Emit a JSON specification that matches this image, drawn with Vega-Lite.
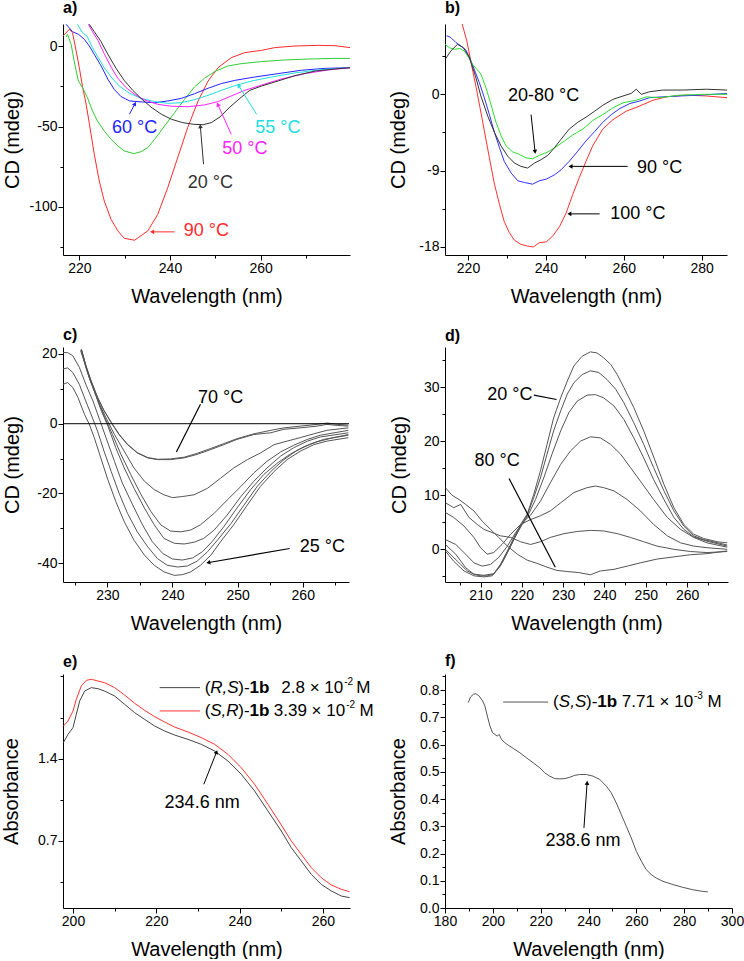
{
"$schema": "https://vega.github.io/schema/vega-lite/v6.json",
"padding": {"left": 1, "top": 0, "right": 0, "bottom": 0},
"columns": 2,
"spacing": {"row": 92, "column": 95},
"bounds": "flush",
"resolve": {"scale": {"color": "independent", "x": "independent", "y": "independent"}},
"config": {
 "font": "Liberation Sans",
 "view": {"stroke": null},
 "axis": {"grid": false, "domainColor": "#000", "tickColor": "#000", "labelColor": "#000", "titleColor": "#000", "labelFontSize": 14, "titleFontSize": 20, "titleFontWeight": "normal", "tickSize": 5, "labelPadding": 1, "labelFont": "Liberation Sans", "titleFont": "Liberation Sans", "labelOverlap": false, "labelFlush": false},
 "axisX": {"titleY": 41, "titleBaseline": "middle", "labelPadding": 1},
 "axisY": {"titleBaseline": "middle", "titleAlign": "center"},
 "title": {"anchor": "start", "fontSize": 16, "fontWeight": "bold", "frame": "group", "font": "Liberation Sans", "color": "#000"},
 "text": {"font": "Liberation Sans"}
},
"datasets": {
 "a": [
  {"w":216.4,"v":6.4,"s":"90"},{"w":217.8,"v":10.6,"s":"90"},{"w":218.5,"v":8.5,"s":"90"},{"w":219.3,"v":-2.9,"s":"90"},{"w":220,"v":-13.3,"s":"90"},{"w":220.7,"v":-25,"s":"90"},{"w":221.5,"v":-36,"s":"90"},{"w":222.2,"v":-48,"s":"90"},{"w":223.3,"v":-67.2,"s":"90"},{"w":224.4,"v":-83.8,"s":"90"},{"w":225.5,"v":-96.3,"s":"90"},{"w":227,"v":-107.7,"s":"90"},{"w":228.5,"v":-114.9,"s":"90"},{"w":229.9,"v":-119.5,"s":"90"},{"w":232.2,"v":-120.7,"s":"90"},{"w":235.1,"v":-114.9,"s":"90"},{"w":237.3,"v":-104.6,"s":"90"},{"w":239.5,"v":-88,"s":"90"},{"w":241.7,"v":-69.3,"s":"90"},{"w":243.9,"v":-50.6,"s":"90"},{"w":246.2,"v":-34,"s":"90"},{"w":248.4,"v":-21.6,"s":"90"},{"w":250.6,"v":-13.3,"s":"90"},{"w":253.5,"v":-7.1,"s":"90"},{"w":256.5,"v":-3.9,"s":"90"},{"w":260.2,"v":-2.5,"s":"90"},{"w":263.1,"v":-0.8,"s":"90"},{"w":267.5,"v":0.2,"s":"90"},{"w":272.7,"v":0.6,"s":"90"},{"w":276.4,"v":0.4,"s":"90"},{"w":279.7,"v":-0.8,"s":"90"},
  {"w":217.1,"v":5.8,"s":"g"},{"w":217.4,"v":7.5,"s":"g"},{"w":218.2,"v":1.2,"s":"g"},{"w":219,"v":-11.2,"s":"g"},{"w":219.8,"v":-21.6,"s":"g"},{"w":220.7,"v":-25.7,"s":"g"},{"w":221.8,"v":-32,"s":"g"},{"w":222.9,"v":-40.2,"s":"g"},{"w":224,"v":-46.5,"s":"g"},{"w":225.5,"v":-52.7,"s":"g"},{"w":227,"v":-57.9,"s":"g"},{"w":228.5,"v":-62,"s":"g"},{"w":229.9,"v":-65.1,"s":"g"},{"w":232,"v":-66.8,"s":"g"},{"w":233.6,"v":-65.6,"s":"g"},{"w":235.1,"v":-63.1,"s":"g"},{"w":236.6,"v":-57.9,"s":"g"},{"w":238.8,"v":-49.6,"s":"g"},{"w":241,"v":-41.3,"s":"g"},{"w":243.2,"v":-33,"s":"g"},{"w":245.4,"v":-25.3,"s":"g"},{"w":247.6,"v":-19.9,"s":"g"},{"w":249.8,"v":-15.8,"s":"g"},{"w":252.8,"v":-12.2,"s":"g"},{"w":255.7,"v":-10.8,"s":"g"},{"w":260.2,"v":-9.5,"s":"g"},{"w":265.3,"v":-8.5,"s":"g"},{"w":270.5,"v":-7.9,"s":"g"},{"w":276.4,"v":-7.5,"s":"g"},{"w":279.7,"v":-7.5,"s":"g"},
  {"w":217.1,"v":13.7,"s":"60"},{"w":218.5,"v":9.1,"s":"60"},{"w":219.8,"v":7.5,"s":"60"},{"w":221.1,"v":4.4,"s":"60"},{"w":222.2,"v":0.2,"s":"60"},{"w":223.3,"v":-5,"s":"60"},{"w":224.8,"v":-12.2,"s":"60"},{"w":226.3,"v":-20.5,"s":"60"},{"w":227.7,"v":-26.8,"s":"60"},{"w":229.2,"v":-31.3,"s":"60"},{"w":231.1,"v":-34,"s":"60"},{"w":233.6,"v":-34.6,"s":"60"},{"w":236.6,"v":-35.1,"s":"60"},{"w":239.5,"v":-34,"s":"60"},{"w":242.5,"v":-32.4,"s":"60"},{"w":245.4,"v":-29.5,"s":"60"},{"w":248.4,"v":-26.1,"s":"60"},{"w":251.3,"v":-23.2,"s":"60"},{"w":254.3,"v":-21.2,"s":"60"},{"w":258.7,"v":-19.1,"s":"60"},{"w":263.8,"v":-17,"s":"60"},{"w":269,"v":-14.9,"s":"60"},{"w":274.2,"v":-13.7,"s":"60"},{"w":279.7,"v":-13.3,"s":"60"},
  {"w":219.6,"v":13.7,"s":"55"},{"w":220.7,"v":8.5,"s":"55"},{"w":221.7,"v":6.4,"s":"55"},{"w":222.9,"v":-0.8,"s":"55"},{"w":224.2,"v":-7.1,"s":"55"},{"w":225.5,"v":-13.3,"s":"55"},{"w":227,"v":-19.1,"s":"55"},{"w":228.8,"v":-24.7,"s":"55"},{"w":231.1,"v":-29.3,"s":"55"},{"w":233.6,"v":-32.4,"s":"55"},{"w":236.6,"v":-34.4,"s":"55"},{"w":239.5,"v":-35.5,"s":"55"},{"w":242.5,"v":-35.1,"s":"55"},{"w":245.4,"v":-33.2,"s":"55"},{"w":248.4,"v":-30.5,"s":"55"},{"w":251.3,"v":-27.4,"s":"55"},{"w":254.3,"v":-24.5,"s":"55"},{"w":258,"v":-21.6,"s":"55"},{"w":262.4,"v":-19.1,"s":"55"},{"w":267.5,"v":-16.6,"s":"55"},{"w":273.4,"v":-14.5,"s":"55"},{"w":279.7,"v":-13.3,"s":"55"},
  {"w":222,"v":13.7,"s":"50"},{"w":222.9,"v":9.1,"s":"50"},{"w":224.1,"v":3.7,"s":"50"},{"w":225.5,"v":-4.6,"s":"50"},{"w":227,"v":-12.9,"s":"50"},{"w":228.5,"v":-19.9,"s":"50"},{"w":230.3,"v":-25.7,"s":"50"},{"w":232.2,"v":-29.9,"s":"50"},{"w":234.4,"v":-33.4,"s":"50"},{"w":237.3,"v":-36.1,"s":"50"},{"w":240.3,"v":-37.3,"s":"50"},{"w":243.9,"v":-37.6,"s":"50"},{"w":247.6,"v":-36.5,"s":"50"},{"w":250.6,"v":-34.4,"s":"50"},{"w":253.5,"v":-30.9,"s":"50"},{"w":256.5,"v":-27.4,"s":"50"},{"w":260.2,"v":-24.1,"s":"50"},{"w":264.6,"v":-20.3,"s":"50"},{"w":269.7,"v":-17,"s":"50"},{"w":274.9,"v":-14.7,"s":"50"},{"w":279.7,"v":-13.3,"s":"50"},
  {"w":222.2,"v":13.7,"s":"20"},{"w":223.3,"v":9.1,"s":"20"},{"w":224.8,"v":2.9,"s":"20"},{"w":226.3,"v":-5,"s":"20"},{"w":228.1,"v":-13.7,"s":"20"},{"w":229.9,"v":-21.2,"s":"20"},{"w":231.8,"v":-27.4,"s":"20"},{"w":233.6,"v":-32.4,"s":"20"},{"w":235.8,"v":-37.8,"s":"20"},{"w":238.1,"v":-42.3,"s":"20"},{"w":240.3,"v":-45.4,"s":"20"},{"w":242.8,"v":-47.5,"s":"20"},{"w":245.1,"v":-48.5,"s":"20"},{"w":247.3,"v":-48.8,"s":"20"},{"w":249.1,"v":-47.5,"s":"20"},{"w":251,"v":-44,"s":"20"},{"w":253.2,"v":-37.8,"s":"20"},{"w":255.4,"v":-32.4,"s":"20"},{"w":257.6,"v":-27.4,"s":"20"},{"w":260.2,"v":-24.7,"s":"20"},{"w":263.8,"v":-21.6,"s":"20"},{"w":267.5,"v":-18.3,"s":"20"},{"w":272,"v":-15.4,"s":"20"},{"w":276.4,"v":-14.1,"s":"20"},{"w":279.7,"v":-13.3,"s":"20"}
 ],
 "aarr": [
  {"x":231.05,"y":-42.3,"x2":232.2,"y2":-36.1,"s":"60"},
  {"x":259.1,"y":-42.3,"x2":255.2,"y2":-24.7,"s":"55"},
  {"x":253.5,"y":-54.8,"x2":250.6,"y2":-36.5,"s":"50"},
  {"x":247.4,"y":-73.4,"x2":246.7,"y2":-50.2,"s":"20"},
  {"x":241,"y":-115.5,"x2":236.2,"y2":-115.5,"s":"90"}
 ],
 "atxt": [
  {"x":232.2,"y":-50.6,"t":"60 °C","s":"60"},
  {"x":263.8,"y":-50.6,"t":"55 °C","s":"55"},
  {"x":256.5,"y":-64.1,"t":"50 °C","s":"50"},
  {"x":248.9,"y":-84.9,"t":"20 °C","s":"20"},
  {"x":248,"y":-115,"t":"90 °C","s":"90"}
 ],
 "b": [
  {"w":218.5,"v":8.3,"s":"100"},{"w":219.7,"v":6.3,"s":"100"},{"w":220.9,"v":3.5,"s":"100"},{"w":222.1,"v":0.8,"s":"100"},{"w":223.1,"v":-1.6,"s":"100"},{"w":224.2,"v":-4.3,"s":"100"},{"w":225.5,"v":-7.5,"s":"100"},{"w":226.8,"v":-10.6,"s":"100"},{"w":228.1,"v":-13,"s":"100"},{"w":229.3,"v":-15,"s":"100"},{"w":230.6,"v":-16.3,"s":"100"},{"w":231.9,"v":-17.2,"s":"100"},{"w":233.6,"v":-17.7,"s":"100"},{"w":235.3,"v":-17.9,"s":"100"},{"w":236.8,"v":-18,"s":"100"},{"w":238.3,"v":-17.5,"s":"100"},{"w":240.1,"v":-17.4,"s":"100"},{"w":241.8,"v":-16.7,"s":"100"},{"w":243.5,"v":-15.6,"s":"100"},{"w":245.2,"v":-14,"s":"100"},{"w":246.9,"v":-11.8,"s":"100"},{"w":248.6,"v":-9.8,"s":"100"},{"w":250.3,"v":-7.9,"s":"100"},{"w":252,"v":-6.1,"s":"100"},{"w":254.6,"v":-4.1,"s":"100"},{"w":257.2,"v":-3,"s":"100"},{"w":260.6,"v":-2,"s":"100"},{"w":264,"v":-1.4,"s":"100"},{"w":267.5,"v":-0.7,"s":"100"},{"w":270.9,"v":-0.3,"s":"100"},{"w":276,"v":-0.1,"s":"100"},{"w":281.2,"v":-0.2,"s":"100"},{"w":286.5,"v":-0.4,"s":"100"},
  {"w":214.5,"v":6.9,"s":"90"},{"w":215.6,"v":6.7,"s":"90"},{"w":216.9,"v":6.1,"s":"90"},{"w":218.2,"v":5.7,"s":"90"},{"w":219.5,"v":5.2,"s":"90"},{"w":220.8,"v":3.9,"s":"90"},{"w":221.9,"v":2.6,"s":"90"},{"w":222.9,"v":1.4,"s":"90"},{"w":224.2,"v":-0.4,"s":"90"},{"w":225.5,"v":-2.4,"s":"90"},{"w":226.8,"v":-4.5,"s":"90"},{"w":228.1,"v":-6.3,"s":"90"},{"w":229.3,"v":-7.9,"s":"90"},{"w":231.1,"v":-9.3,"s":"90"},{"w":232.8,"v":-10.2,"s":"90"},{"w":234.5,"v":-10.4,"s":"90"},{"w":236.6,"v":-10.6,"s":"90"},{"w":238.3,"v":-10.2,"s":"90"},{"w":240.1,"v":-10,"s":"90"},{"w":242.2,"v":-9.5,"s":"90"},{"w":243.9,"v":-8.9,"s":"90"},{"w":246,"v":-7.9,"s":"90"},{"w":248.2,"v":-6.7,"s":"90"},{"w":250.3,"v":-5.5,"s":"90"},{"w":252.5,"v":-4.4,"s":"90"},{"w":254.6,"v":-3.3,"s":"90"},{"w":256.8,"v":-2.4,"s":"90"},{"w":258.9,"v":-1.7,"s":"90"},{"w":261.5,"v":-1.1,"s":"90"},{"w":264,"v":-0.8,"s":"90"},{"w":266.6,"v":-0.4,"s":"90"},{"w":270,"v":-0.3,"s":"90"},{"w":274.3,"v":-0.2,"s":"90"},{"w":279.5,"v":-0.1,"s":"90"},{"w":286.5,"v":0.1,"s":"90"},
  {"w":214.1,"v":5.9,"s":"g"},{"w":215.2,"v":5.5,"s":"g"},{"w":216.5,"v":5.3,"s":"g"},{"w":217.9,"v":5.4,"s":"g"},{"w":219.1,"v":5.1,"s":"g"},{"w":220.2,"v":4.3,"s":"g"},{"w":221.2,"v":3.5,"s":"g"},{"w":222.2,"v":3,"s":"g"},{"w":223.3,"v":2.4,"s":"g"},{"w":224.6,"v":0.8,"s":"g"},{"w":225.9,"v":-1.2,"s":"g"},{"w":227.2,"v":-3.3,"s":"g"},{"w":228.5,"v":-4.9,"s":"g"},{"w":229.8,"v":-6.1,"s":"g"},{"w":231.5,"v":-6.8,"s":"g"},{"w":233.2,"v":-7.1,"s":"g"},{"w":234.9,"v":-7.5,"s":"g"},{"w":236.6,"v":-7.6,"s":"g"},{"w":238.3,"v":-7.2,"s":"g"},{"w":240.5,"v":-6.8,"s":"g"},{"w":242.6,"v":-6.2,"s":"g"},{"w":244.8,"v":-5.5,"s":"g"},{"w":246.9,"v":-4.8,"s":"g"},{"w":249.5,"v":-4.1,"s":"g"},{"w":252,"v":-3.1,"s":"g"},{"w":254.6,"v":-2.4,"s":"g"},{"w":257.2,"v":-1.6,"s":"g"},{"w":259.8,"v":-1,"s":"g"},{"w":263.2,"v":-0.7,"s":"g"},{"w":265.8,"v":-0.3,"s":"g"},{"w":269.2,"v":-0.4,"s":"g"},{"w":274.3,"v":-0.1,"s":"g"},{"w":281.2,"v":0,"s":"g"},{"w":286.5,"v":0,"s":"g"},
  {"w":214.1,"v":4.1,"s":"k"},{"w":215.6,"v":5.1,"s":"k"},{"w":217.3,"v":5.9,"s":"k"},{"w":218.8,"v":5.5,"s":"k"},{"w":220.3,"v":4.4,"s":"k"},{"w":221.9,"v":2.2,"s":"k"},{"w":223.3,"v":-0.2,"s":"k"},{"w":225.1,"v":-2.6,"s":"k"},{"w":226.8,"v":-4.5,"s":"k"},{"w":228.5,"v":-6.1,"s":"k"},{"w":230.2,"v":-7.3,"s":"k"},{"w":231.9,"v":-8.1,"s":"k"},{"w":233.6,"v":-8.5,"s":"k"},{"w":235.3,"v":-8.7,"s":"k"},{"w":237.1,"v":-8.1,"s":"k"},{"w":238.8,"v":-7.7,"s":"k"},{"w":240.5,"v":-7.2,"s":"k"},{"w":242.2,"v":-6.3,"s":"k"},{"w":243.9,"v":-5.3,"s":"k"},{"w":246,"v":-4.1,"s":"k"},{"w":248.2,"v":-3.3,"s":"k"},{"w":250.3,"v":-2.7,"s":"k"},{"w":252.5,"v":-2,"s":"k"},{"w":254.6,"v":-1.3,"s":"k"},{"w":257.2,"v":-0.6,"s":"k"},{"w":259.8,"v":-0.2,"s":"k"},{"w":261.9,"v":0.1,"s":"k"},{"w":263.2,"v":0.6,"s":"k"},{"w":264.5,"v":0,"s":"k"},{"w":266.6,"v":0.3,"s":"k"},{"w":270,"v":0.5,"s":"k"},{"w":275.2,"v":0.5,"s":"k"},{"w":281.2,"v":0.6,"s":"k"},{"w":286.5,"v":0.5,"s":"k"}
 ],
 "barr": [
  {"x":236.2,"y":-2.4,"x2":237.2,"y2":-6.7,"s":"k1"},
  {"x":261,"y":-8.5,"x2":246.5,"y2":-8.5,"s":"k2"},
  {"x":253.8,"y":-14.1,"x2":246.2,"y2":-14.1,"s":"k3"}
 ],
 "btxt": [
  {"x":239.4,"y":-0.2,"t":"20-80 °C"},
  {"x":269.2,"y":-8.7,"t":"90 °C"},
  {"x":263.6,"y":-14.1,"t":"100 °C"}
 ],
 "c": [
  {"w":223.2,"v":11.3,"s":"c7"},{"w":223.9,"v":11.8,"s":"c7"},{"w":224.7,"v":10.4,"s":"c7"},{"w":225.5,"v":7.5,"s":"c7"},{"w":226.5,"v":2.7,"s":"c7"},{"w":227.2,"v":0,"s":"c7"},{"w":228,"v":-4,"s":"c7"},{"w":229,"v":-9.8,"s":"c7"},{"w":230,"v":-15.6,"s":"c7"},{"w":231.3,"v":-22.3,"s":"c7"},{"w":232.6,"v":-28.1,"s":"c7"},{"w":234.1,"v":-33.4,"s":"c7"},{"w":235.7,"v":-37.7,"s":"c7"},{"w":237.2,"v":-40.6,"s":"c7"},{"w":238.7,"v":-42.5,"s":"c7"},{"w":240.3,"v":-43.5,"s":"c7"},{"w":241.5,"v":-43.3,"s":"c7"},{"w":242.8,"v":-42.5,"s":"c7"},{"w":244.3,"v":-40.6,"s":"c7"},{"w":245.9,"v":-37.7,"s":"c7"},{"w":247.4,"v":-33.8,"s":"c7"},{"w":249.4,"v":-29,"s":"c7"},{"w":251.5,"v":-23.3,"s":"c7"},{"w":253.5,"v":-18,"s":"c7"},{"w":255.6,"v":-13.7,"s":"c7"},{"w":257.6,"v":-10.3,"s":"c7"},{"w":259.6,"v":-7.9,"s":"c7"},{"w":261.7,"v":-6,"s":"c7"},{"w":263.7,"v":-5,"s":"c7"},{"w":267,"v":-4,"s":"c7"},
  {"w":223.2,"v":15.7,"s":"c6"},{"w":223.9,"v":16,"s":"c6"},{"w":224.7,"v":14.7,"s":"c6"},{"w":225.7,"v":11.3,"s":"c6"},{"w":226.7,"v":6.5,"s":"c6"},{"w":227.8,"v":1.3,"s":"c6"},{"w":228.5,"v":-2.1,"s":"c6"},{"w":229.5,"v":-7.9,"s":"c6"},{"w":230.6,"v":-13.7,"s":"c6"},{"w":231.8,"v":-19.9,"s":"c6"},{"w":233.1,"v":-25.7,"s":"c6"},{"w":234.6,"v":-31,"s":"c6"},{"w":236.2,"v":-35.3,"s":"c6"},{"w":237.7,"v":-38.7,"s":"c6"},{"w":239.2,"v":-40.6,"s":"c6"},{"w":240.8,"v":-41.1,"s":"c6"},{"w":242.3,"v":-40.8,"s":"c6"},{"w":243.8,"v":-39.4,"s":"c6"},{"w":245.4,"v":-36.7,"s":"c6"},{"w":246.9,"v":-33.4,"s":"c6"},{"w":249,"v":-28.6,"s":"c6"},{"w":251,"v":-23.3,"s":"c6"},{"w":253,"v":-18,"s":"c6"},{"w":255.1,"v":-13.7,"s":"c6"},{"w":257.1,"v":-10.3,"s":"c6"},{"w":259.1,"v":-7.7,"s":"c6"},{"w":261.2,"v":-5.8,"s":"c6"},{"w":263.2,"v":-4.5,"s":"c6"},{"w":267,"v":-3.3,"s":"c6"},
  {"w":223.2,"v":20.4,"s":"c5"},{"w":223.9,"v":20.4,"s":"c5"},{"w":224.7,"v":19.5,"s":"c5"},{"w":225.7,"v":16.2,"s":"c5"},{"w":226.7,"v":11.3,"s":"c5"},{"w":227.8,"v":6.5,"s":"c5"},{"w":228.8,"v":1.3,"s":"c5"},{"w":229.8,"v":-4,"s":"c5"},{"w":231.1,"v":-10.8,"s":"c5"},{"w":232.3,"v":-17,"s":"c5"},{"w":233.9,"v":-23.3,"s":"c5"},{"w":235.4,"v":-29,"s":"c5"},{"w":236.9,"v":-33.8,"s":"c5"},{"w":238.5,"v":-37.2,"s":"c5"},{"w":240,"v":-38.8,"s":"c5"},{"w":241.5,"v":-39.1,"s":"c5"},{"w":243.1,"v":-38.5,"s":"c5"},{"w":244.6,"v":-36.7,"s":"c5"},{"w":246.1,"v":-33.8,"s":"c5"},{"w":247.9,"v":-29.5,"s":"c5"},{"w":249.9,"v":-24.2,"s":"c5"},{"w":252,"v":-18.9,"s":"c5"},{"w":254,"v":-14.6,"s":"c5"},{"w":256.1,"v":-11.3,"s":"c5"},{"w":258.1,"v":-8.7,"s":"c5"},{"w":260.2,"v":-6.6,"s":"c5"},{"w":262.2,"v":-5.2,"s":"c5"},{"w":264.7,"v":-4,"s":"c5"},{"w":267,"v":-3.1,"s":"c5"},
  {"w":225.9,"v":21,"s":"c4"},{"w":226.5,"v":17.6,"s":"c4"},{"w":227.2,"v":13.3,"s":"c4"},{"w":228,"v":9.4,"s":"c4"},{"w":229,"v":4.1,"s":"c4"},{"w":230.1,"v":-0.7,"s":"c4"},{"w":231.3,"v":-6.9,"s":"c4"},{"w":232.6,"v":-12.7,"s":"c4"},{"w":234.1,"v":-18.5,"s":"c4"},{"w":235.7,"v":-24.2,"s":"c4"},{"w":237.2,"v":-29,"s":"c4"},{"w":238.7,"v":-32.9,"s":"c4"},{"w":240.3,"v":-34.3,"s":"c4"},{"w":241.8,"v":-34.5,"s":"c4"},{"w":243.3,"v":-34,"s":"c4"},{"w":244.8,"v":-32.9,"s":"c4"},{"w":246.4,"v":-30.5,"s":"c4"},{"w":248.4,"v":-26.2,"s":"c4"},{"w":250.5,"v":-20.9,"s":"c4"},{"w":252.5,"v":-16.5,"s":"c4"},{"w":254.5,"v":-12.7,"s":"c4"},{"w":256.6,"v":-9.3,"s":"c4"},{"w":258.6,"v":-6.9,"s":"c4"},{"w":260.7,"v":-5,"s":"c4"},{"w":262.7,"v":-3.8,"s":"c4"},{"w":267,"v":-2.6,"s":"c4"},
  {"w":226,"v":21,"s":"c3"},{"w":226.7,"v":16.2,"s":"c3"},{"w":227.5,"v":11.8,"s":"c3"},{"w":228.5,"v":7,"s":"c3"},{"w":229.5,"v":2.2,"s":"c3"},{"w":230.8,"v":-3.1,"s":"c3"},{"w":232.1,"v":-8.8,"s":"c3"},{"w":233.6,"v":-14.6,"s":"c3"},{"w":235.2,"v":-20.4,"s":"c3"},{"w":236.7,"v":-25.2,"s":"c3"},{"w":238.2,"v":-29,"s":"c3"},{"w":239.7,"v":-30.8,"s":"c3"},{"w":241.3,"v":-31,"s":"c3"},{"w":242.8,"v":-30.5,"s":"c3"},{"w":244.3,"v":-29,"s":"c3"},{"w":246.4,"v":-25.7,"s":"c3"},{"w":248.4,"v":-21.9,"s":"c3"},{"w":250.5,"v":-18,"s":"c3"},{"w":252.5,"v":-14.1,"s":"c3"},{"w":254.5,"v":-10.8,"s":"c3"},{"w":256.6,"v":-8.1,"s":"c3"},{"w":258.6,"v":-6.2,"s":"c3"},{"w":260.7,"v":-4.5,"s":"c3"},{"w":262.7,"v":-3.3,"s":"c3"},{"w":267,"v":-1.9,"s":"c3"},
  {"w":226.1,"v":21,"s":"c2"},{"w":226.9,"v":15.2,"s":"c2"},{"w":227.8,"v":10.4,"s":"c2"},{"w":228.8,"v":5.6,"s":"c2"},{"w":229.8,"v":1.7,"s":"c2"},{"w":231.1,"v":-3.1,"s":"c2"},{"w":232.6,"v":-7.9,"s":"c2"},{"w":234.1,"v":-12.7,"s":"c2"},{"w":235.7,"v":-16.5,"s":"c2"},{"w":237.2,"v":-18.9,"s":"c2"},{"w":238.7,"v":-20.4,"s":"c2"},{"w":240,"v":-21.2,"s":"c2"},{"w":241.5,"v":-20.9,"s":"c2"},{"w":243.3,"v":-20.4,"s":"c2"},{"w":245.4,"v":-18.5,"s":"c2"},{"w":247.4,"v":-15.6,"s":"c2"},{"w":249.4,"v":-12.7,"s":"c2"},{"w":251.5,"v":-10.3,"s":"c2"},{"w":253.5,"v":-8.4,"s":"c2"},{"w":255.6,"v":-6,"s":"c2"},{"w":257.6,"v":-5,"s":"c2"},{"w":259.6,"v":-4,"s":"c2"},{"w":261.7,"v":-2.9,"s":"c2"},{"w":263.7,"v":-1.9,"s":"c2"},{"w":267,"v":-1.2,"s":"c2"},
  {"w":226,"v":21.2,"s":"c1"},{"w":226.7,"v":16.6,"s":"c1"},{"w":227.5,"v":12.3,"s":"c1"},{"w":228.5,"v":7.5,"s":"c1"},{"w":229.5,"v":3.7,"s":"c1"},{"w":230.6,"v":0.3,"s":"c1"},{"w":231.8,"v":-3.1,"s":"c1"},{"w":233.1,"v":-6,"s":"c1"},{"w":234.6,"v":-8.4,"s":"c1"},{"w":236.2,"v":-9.8,"s":"c1"},{"w":237.7,"v":-10.3,"s":"c1"},{"w":239.7,"v":-10.3,"s":"c1"},{"w":241.8,"v":-9.8,"s":"c1"},{"w":243.8,"v":-8.8,"s":"c1"},{"w":245.9,"v":-7.4,"s":"c1"},{"w":247.9,"v":-6,"s":"c1"},{"w":249.9,"v":-4.5,"s":"c1"},{"w":252.5,"v":-3.1,"s":"c1"},{"w":255.1,"v":-2.6,"s":"c1"},{"w":257.1,"v":-1.6,"s":"c1"},{"w":259.6,"v":-1.2,"s":"c1"},{"w":262.2,"v":-0.7,"s":"c1"},{"w":263.7,"v":-0.2,"s":"c1"},{"w":265.3,"v":-0.5,"s":"c1"},{"w":267,"v":-0.7,"s":"c1"},
  {"w":226,"v":21.4,"s":"c1b"},{"w":226.7,"v":16.8,"s":"c1b"},{"w":227.5,"v":12.4,"s":"c1b"},{"w":228.5,"v":7.6,"s":"c1b"},{"w":229.5,"v":3.8,"s":"c1b"},{"w":230.6,"v":0.4,"s":"c1b"},{"w":231.8,"v":-3,"s":"c1b"},{"w":233.1,"v":-5.9,"s":"c1b"},{"w":234.6,"v":-8.3,"s":"c1b"},{"w":236.2,"v":-9.7,"s":"c1b"},{"w":237.7,"v":-10.2,"s":"c1b"},{"w":239.7,"v":-10.1,"s":"c1b"},{"w":241.8,"v":-9.6,"s":"c1b"},{"w":243.8,"v":-8.5,"s":"c1b"},{"w":245.9,"v":-7.1,"s":"c1b"},{"w":247.9,"v":-5.7,"s":"c1b"},{"w":249.9,"v":-4.3,"s":"c1b"},{"w":252.5,"v":-2.9,"s":"c1b"},{"w":255.1,"v":-1.9,"s":"c1b"},{"w":257.1,"v":-1.2,"s":"c1b"},{"w":259.6,"v":-0.7,"s":"c1b"},{"w":262.2,"v":-0.2,"s":"c1b"},{"w":263.7,"v":0.2,"s":"c1b"},{"w":265.3,"v":-0.2,"s":"c1b"},{"w":267,"v":-0.4,"s":"c1b"}
 ],
 "czero": [{"v":0}],
 "carr": [
  {"x":244.3,"y":5.6,"x2":240.6,"y2":-8.1,"s":"70"},
  {"x":258,"y":-35.8,"x2":245.6,"y2":-39.8,"s":"25"}
 ],
 "ctxt": [
  {"x":247.4,"y":7.3,"t":"70 °C"},
  {"x":263,"y":-35.3,"t":"25 °C"}
 ],
 "d": [
  {"w":201.5,"v":0,"s":"d1"},{"w":203.5,"v":-1.5,"s":"d1"},{"w":205.2,"v":-2.8,"s":"d1"},{"w":206.8,"v":-4,"s":"d1"},{"w":208.4,"v":-4.6,"s":"d1"},{"w":210,"v":-4.9,"s":"d1"},{"w":211.6,"v":-4.9,"s":"d1"},{"w":213.2,"v":-4.6,"s":"d1"},{"w":214.8,"v":-2.8,"s":"d1"},{"w":216.5,"v":-0.3,"s":"d1"},{"w":218.1,"v":2.2,"s":"d1"},{"w":219.7,"v":4.6,"s":"d1"},{"w":221.3,"v":6.5,"s":"d1"},{"w":222.9,"v":10.2,"s":"d1"},{"w":224.5,"v":14.5,"s":"d1"},{"w":226.1,"v":19.4,"s":"d1"},{"w":227.7,"v":24.3,"s":"d1"},{"w":229.4,"v":28,"s":"d1"},{"w":231,"v":31.1,"s":"d1"},{"w":232.6,"v":33.9,"s":"d1"},{"w":234.6,"v":35.7,"s":"d1"},{"w":236.6,"v":36.5,"s":"d1"},{"w":238.2,"v":36.3,"s":"d1"},{"w":239.8,"v":35.4,"s":"d1"},{"w":241.5,"v":34.2,"s":"d1"},{"w":243.1,"v":32.3,"s":"d1"},{"w":244.7,"v":29.9,"s":"d1"},{"w":247.1,"v":26.2,"s":"d1"},{"w":249.5,"v":21.9,"s":"d1"},{"w":252,"v":16.9,"s":"d1"},{"w":254.4,"v":12,"s":"d1"},{"w":256.8,"v":7.7,"s":"d1"},{"w":259.2,"v":4.6,"s":"d1"},{"w":261.6,"v":2.8,"s":"d1"},{"w":264,"v":2,"s":"d1"},{"w":267.3,"v":1.4,"s":"d1"},{"w":269.7,"v":1.2,"s":"d1"},
  {"w":201.5,"v":-0.3,"s":"d2"},{"w":203.5,"v":-2.2,"s":"d2"},{"w":206,"v":-4,"s":"d2"},{"w":208.4,"v":-4.9,"s":"d2"},{"w":210.8,"v":-5.1,"s":"d2"},{"w":212.8,"v":-4.9,"s":"d2"},{"w":214.8,"v":-3.1,"s":"d2"},{"w":216.5,"v":-0.6,"s":"d2"},{"w":218.1,"v":1.8,"s":"d2"},{"w":219.7,"v":4.3,"s":"d2"},{"w":221.3,"v":6.3,"s":"d2"},{"w":222.9,"v":9.6,"s":"d2"},{"w":224.5,"v":13.2,"s":"d2"},{"w":226.1,"v":17.6,"s":"d2"},{"w":227.7,"v":21.9,"s":"d2"},{"w":229.4,"v":25.6,"s":"d2"},{"w":231,"v":28.7,"s":"d2"},{"w":232.6,"v":30.8,"s":"d2"},{"w":234.6,"v":32.3,"s":"d2"},{"w":236.6,"v":33,"s":"d2"},{"w":238.6,"v":32.7,"s":"d2"},{"w":240.6,"v":31.4,"s":"d2"},{"w":242.7,"v":29.6,"s":"d2"},{"w":244.7,"v":27.1,"s":"d2"},{"w":247.1,"v":23.4,"s":"d2"},{"w":249.5,"v":19.4,"s":"d2"},{"w":251.9,"v":15.1,"s":"d2"},{"w":254.4,"v":10.8,"s":"d2"},{"w":256.8,"v":7.1,"s":"d2"},{"w":259.2,"v":4.3,"s":"d2"},{"w":261.6,"v":2.5,"s":"d2"},{"w":264,"v":1.8,"s":"d2"},{"w":269.7,"v":0.8,"s":"d2"},
  {"w":201.5,"v":0.9,"s":"d3"},{"w":204,"v":-0.9,"s":"d3"},{"w":206.4,"v":-3.4,"s":"d3"},{"w":208.4,"v":-4.6,"s":"d3"},{"w":210.8,"v":-4.8,"s":"d3"},{"w":213.2,"v":-4.5,"s":"d3"},{"w":215.2,"v":-2.5,"s":"d3"},{"w":216.9,"v":0,"s":"d3"},{"w":218.5,"v":2.5,"s":"d3"},{"w":220.1,"v":4.6,"s":"d3"},{"w":221.5,"v":6.3,"s":"d3"},{"w":223.3,"v":9.2,"s":"d3"},{"w":225.3,"v":13.2,"s":"d3"},{"w":227.3,"v":17.6,"s":"d3"},{"w":229.4,"v":21.9,"s":"d3"},{"w":231.4,"v":25.3,"s":"d3"},{"w":233.4,"v":27.4,"s":"d3"},{"w":235.8,"v":28.5,"s":"d3"},{"w":237.8,"v":28.6,"s":"d3"},{"w":239.8,"v":28,"s":"d3"},{"w":242.3,"v":26.5,"s":"d3"},{"w":244.7,"v":24,"s":"d3"},{"w":247.1,"v":20.6,"s":"d3"},{"w":249.5,"v":16.9,"s":"d3"},{"w":251.9,"v":12.9,"s":"d3"},{"w":254.4,"v":9.2,"s":"d3"},{"w":256.8,"v":5.9,"s":"d3"},{"w":259.2,"v":3.7,"s":"d3"},{"w":261.6,"v":2.3,"s":"d3"},{"w":264.8,"v":1.5,"s":"d3"},{"w":269.7,"v":0.6,"s":"d3"},
  {"w":201.5,"v":1.8,"s":"d4"},{"w":204,"v":0.9,"s":"d4"},{"w":206.4,"v":-0.9,"s":"d4"},{"w":208.4,"v":-2.5,"s":"d4"},{"w":210.4,"v":-3.1,"s":"d4"},{"w":212.4,"v":-2.8,"s":"d4"},{"w":214.4,"v":-1.5,"s":"d4"},{"w":216.5,"v":0.6,"s":"d4"},{"w":218.5,"v":3.1,"s":"d4"},{"w":220.5,"v":5.2,"s":"d4"},{"w":222.1,"v":6.3,"s":"d4"},{"w":224.5,"v":8.9,"s":"d4"},{"w":226.9,"v":12.3,"s":"d4"},{"w":229.4,"v":15.7,"s":"d4"},{"w":231.8,"v":18.2,"s":"d4"},{"w":234.2,"v":20,"s":"d4"},{"w":236.6,"v":20.8,"s":"d4"},{"w":239,"v":20.6,"s":"d4"},{"w":241.5,"v":19.4,"s":"d4"},{"w":243.9,"v":17.6,"s":"d4"},{"w":246.3,"v":15.1,"s":"d4"},{"w":248.7,"v":12.6,"s":"d4"},{"w":251.9,"v":9.2,"s":"d4"},{"w":255.2,"v":5.9,"s":"d4"},{"w":258.4,"v":3.7,"s":"d4"},{"w":261.6,"v":2.2,"s":"d4"},{"w":264.8,"v":1.2,"s":"d4"},{"w":269.7,"v":0.4,"s":"d4"},
  {"w":201.5,"v":6.8,"s":"d5"},{"w":203.5,"v":5.9,"s":"d5"},{"w":206,"v":4.3,"s":"d5"},{"w":208.4,"v":2.2,"s":"d5"},{"w":210,"v":0.3,"s":"d5"},{"w":211.6,"v":-0.9,"s":"d5"},{"w":213.2,"v":-0.6,"s":"d5"},{"w":215.2,"v":0.9,"s":"d5"},{"w":217.3,"v":2.8,"s":"d5"},{"w":219.7,"v":4.6,"s":"d5"},{"w":222.1,"v":5.5,"s":"d5"},{"w":224.5,"v":6.2,"s":"d5"},{"w":226.9,"v":7.1,"s":"d5"},{"w":229.4,"v":8.6,"s":"d5"},{"w":232.6,"v":10.5,"s":"d5"},{"w":235.8,"v":11.4,"s":"d5"},{"w":237.8,"v":11.7,"s":"d5"},{"w":239.8,"v":11.4,"s":"d5"},{"w":242.3,"v":10.8,"s":"d5"},{"w":245.5,"v":9.2,"s":"d5"},{"w":248.7,"v":7.1,"s":"d5"},{"w":251.9,"v":4.6,"s":"d5"},{"w":255.2,"v":2.5,"s":"d5"},{"w":258.4,"v":1.2,"s":"d5"},{"w":261.6,"v":0.6,"s":"d5"},{"w":264.8,"v":0.3,"s":"d5"},{"w":269.7,"v":0,"s":"d5"},
  {"w":201.5,"v":8.6,"s":"d6"},{"w":203.5,"v":7.7,"s":"d6"},{"w":205.2,"v":8.3,"s":"d6"},{"w":207.2,"v":5.9,"s":"d6"},{"w":209.2,"v":4.6,"s":"d6"},{"w":210.8,"v":3.7,"s":"d6"},{"w":212.8,"v":3.1,"s":"d6"},{"w":214.8,"v":2.5,"s":"d6"},{"w":217.3,"v":2.2,"s":"d6"},{"w":219.7,"v":1.4,"s":"d6"},{"w":222.1,"v":0.9,"s":"d6"},{"w":224.5,"v":1.4,"s":"d6"},{"w":226.9,"v":2.2,"s":"d6"},{"w":230.2,"v":2.9,"s":"d6"},{"w":233.4,"v":3.3,"s":"d6"},{"w":236.6,"v":3.5,"s":"d6"},{"w":239.8,"v":3.4,"s":"d6"},{"w":243.1,"v":2.9,"s":"d6"},{"w":246.3,"v":2.2,"s":"d6"},{"w":249.5,"v":1.4,"s":"d6"},{"w":252.7,"v":0.6,"s":"d6"},{"w":256.8,"v":0,"s":"d6"},{"w":260.8,"v":-0.4,"s":"d6"},{"w":264.8,"v":-0.6,"s":"d6"},{"w":269.7,"v":-0.4,"s":"d6"},
  {"w":201.5,"v":11.4,"s":"d7"},{"w":203.1,"v":10,"s":"d7"},{"w":204.8,"v":9.2,"s":"d7"},{"w":206.4,"v":8.3,"s":"d7"},{"w":208.4,"v":7.1,"s":"d7"},{"w":210.4,"v":5.2,"s":"d7"},{"w":212.4,"v":3.7,"s":"d7"},{"w":214.4,"v":2.2,"s":"d7"},{"w":216.5,"v":0.6,"s":"d7"},{"w":218.9,"v":-0.9,"s":"d7"},{"w":221.3,"v":-2,"s":"d7"},{"w":223.7,"v":-2.6,"s":"d7"},{"w":226.1,"v":-3.3,"s":"d7"},{"w":228.5,"v":-3.9,"s":"d7"},{"w":230.9,"v":-4.1,"s":"d7"},{"w":233.8,"v":-4.3,"s":"d7"},{"w":236.6,"v":-4.7,"s":"d7"},{"w":239,"v":-4,"s":"d7"},{"w":242.3,"v":-3.7,"s":"d7"},{"w":245.5,"v":-3.1,"s":"d7"},{"w":248.7,"v":-2.5,"s":"d7"},{"w":252.7,"v":-1.8,"s":"d7"},{"w":256.8,"v":-1.4,"s":"d7"},{"w":260.8,"v":-1,"s":"d7"},{"w":264.8,"v":-0.8,"s":"d7"},{"w":269.7,"v":-0.3,"s":"d7"}
 ],
 "darr": [
  {"x":222.9,"y":28.5,"x2":228.4,"y2":27.7},
  {"x":216.9,"y":13.1,"x2":228.1,"y2":-3.3}
 ],
 "dtxt": [
  {"x":217.1,"y":28.5,"t":"20 °C"},
  {"x":214,"y":16.3,"t":"80 °C"}
 ],
 "e": [
  {"w":197.7,"v":1.536,"s":"RS"},{"w":198.8,"v":1.607,"s":"RS"},{"w":200,"v":1.664,"s":"RS"},{"w":200.8,"v":1.777,"s":"RS"},{"w":201.6,"v":1.89,"s":"RS"},{"w":202.8,"v":1.975,"s":"RS"},{"w":204.4,"v":2.004,"s":"RS"},{"w":206,"v":1.995,"s":"RS"},{"w":207.6,"v":1.975,"s":"RS"},{"w":210,"v":1.933,"s":"RS"},{"w":212.4,"v":1.862,"s":"RS"},{"w":214.8,"v":1.791,"s":"RS"},{"w":217.2,"v":1.734,"s":"RS"},{"w":219.6,"v":1.678,"s":"RS"},{"w":222,"v":1.635,"s":"RS"},{"w":224.4,"v":1.601,"s":"RS"},{"w":227.6,"v":1.564,"s":"RS"},{"w":230.8,"v":1.522,"s":"RS"},{"w":234,"v":1.465,"s":"RS"},{"w":237.2,"v":1.38,"s":"RS"},{"w":240.4,"v":1.267,"s":"RS"},{"w":243.6,"v":1.125,"s":"RS"},{"w":246.8,"v":0.955,"s":"RS"},{"w":250,"v":0.785,"s":"RS"},{"w":252.4,"v":0.643,"s":"RS"},{"w":254.8,"v":0.53,"s":"RS"},{"w":257.2,"v":0.416,"s":"RS"},{"w":259.6,"v":0.331,"s":"RS"},{"w":262,"v":0.275,"s":"RS"},{"w":264.4,"v":0.232,"s":"RS"},{"w":266.4,"v":0.218,"s":"RS"},
  {"w":197.7,"v":1.678,"s":"SR"},{"w":198.8,"v":1.72,"s":"SR"},{"w":200,"v":1.805,"s":"SR"},{"w":200.8,"v":1.905,"s":"SR"},{"w":202,"v":2.018,"s":"SR"},{"w":203.2,"v":2.066,"s":"SR"},{"w":204.4,"v":2.075,"s":"SR"},{"w":206,"v":2.06,"s":"SR"},{"w":207.6,"v":2.046,"s":"SR"},{"w":210,"v":2.004,"s":"SR"},{"w":212.4,"v":1.941,"s":"SR"},{"w":214.8,"v":1.871,"s":"SR"},{"w":217.2,"v":1.811,"s":"SR"},{"w":219.6,"v":1.757,"s":"SR"},{"w":222,"v":1.712,"s":"SR"},{"w":224.4,"v":1.669,"s":"SR"},{"w":227.6,"v":1.627,"s":"SR"},{"w":230.8,"v":1.579,"s":"SR"},{"w":234,"v":1.522,"s":"SR"},{"w":237.2,"v":1.437,"s":"SR"},{"w":240.4,"v":1.323,"s":"SR"},{"w":243.6,"v":1.182,"s":"SR"},{"w":246.8,"v":1.012,"s":"SR"},{"w":250,"v":0.836,"s":"SR"},{"w":252.4,"v":0.7,"s":"SR"},{"w":254.8,"v":0.587,"s":"SR"},{"w":257.2,"v":0.473,"s":"SR"},{"w":259.6,"v":0.388,"s":"SR"},{"w":262,"v":0.326,"s":"SR"},{"w":264.4,"v":0.289,"s":"SR"},{"w":266.4,"v":0.269,"s":"SR"}
 ],
 "eleg": [
  {"x":220.8,"x2":230.5,"y":2.004,"s":"RS"},
  {"x":220.8,"x2":230.5,"y":1.806,"s":"SR"}
 ],
 "elt": [
  {"x":231.6,"y":2.004,"t":"(","k":"n"},{"x":232.95,"y":2.004,"t":"R,S","k":"i"},{"x":239.7,"y":2.004,"t":")-","k":"n"},{"x":242.4,"y":2.004,"t":"1b","k":"b"},{"x":250,"y":2.004,"t":"2.8 × 10","k":"n"},{"x":265.1,"y":2.004,"t":"-2","k":"sup"},{"x":268,"y":2.004,"t":"M","k":"n"},
  {"x":231.6,"y":1.806,"t":"(","k":"n"},{"x":232.95,"y":1.806,"t":"S,R","k":"i"},{"x":239.7,"y":1.806,"t":")-","k":"n"},{"x":242.4,"y":1.806,"t":"1b","k":"b"},{"x":248.2,"y":1.806,"t":"3.39 × 10","k":"n"},{"x":265.6,"y":1.806,"t":"-2","k":"sup"},{"x":268.8,"y":1.806,"t":"M","k":"n"}
 ],
 "earr": [{"x":231.4,"y":1.182,"x2":234.4,"y2":1.451}],
 "etxt": [{"x":231,"y":1.026,"t":"234.6 nm"}],
 "f": [
  {"w":189.7,"v":0.754},{"w":190.7,"v":0.775},{"w":191.8,"v":0.784},{"w":192.9,"v":0.787},{"w":194.3,"v":0.778},{"w":195.7,"v":0.76},{"w":196.7,"v":0.741},{"w":197.7,"v":0.705},{"w":198.8,"v":0.668},{"w":199.9,"v":0.643},{"w":200.9,"v":0.637},{"w":201.8,"v":0.631},{"w":202.7,"v":0.637},{"w":203.6,"v":0.619},{"w":205,"v":0.607},{"w":206.4,"v":0.598},{"w":208.5,"v":0.586},{"w":211.3,"v":0.57},{"w":214.1,"v":0.551},{"w":216.9,"v":0.533},{"w":219.6,"v":0.515},{"w":221.7,"v":0.496},{"w":223.8,"v":0.484},{"w":225.9,"v":0.475},{"w":228,"v":0.474},{"w":230.1,"v":0.475},{"w":232.2,"v":0.48},{"w":234.2,"v":0.487},{"w":236.3,"v":0.49},{"w":239.1,"v":0.49},{"w":241.9,"v":0.484},{"w":244.7,"v":0.472},{"w":247.5,"v":0.447},{"w":249.5,"v":0.423},{"w":251.6,"v":0.386},{"w":253.7,"v":0.343},{"w":255.8,"v":0.3},{"w":257.9,"v":0.257},{"w":260,"v":0.208},{"w":262.1,"v":0.172},{"w":264.1,"v":0.141},{"w":266.2,"v":0.123},{"w":268.3,"v":0.11},{"w":271.1,"v":0.098},{"w":275.3,"v":0.086},{"w":279.4,"v":0.076},{"w":283.6,"v":0.067},{"w":287.8,"v":0.061},{"w":289.9,"v":0.059}
 ],
 "fleg": [{"x":204.3,"x2":223.1,"y":0.756}],
 "flt": [
  {"x":225.2,"y":0.756,"t":"(","k":"n"},{"x":227.6,"y":0.756,"t":"S,S","k":"i"},{"x":239,"y":0.756,"t":")-","k":"n"},{"x":243.7,"y":0.756,"t":"1b","k":"b"},{"x":253.9,"y":0.756,"t":"7.71 × 10","k":"n"},{"x":284.1,"y":0.756,"t":"-3","k":"sup"},{"x":289.8,"y":0.756,"t":"M","k":"n"}
 ],
 "farr": [{"x":238.1,"y":0.294,"x2":239.4,"y2":0.457}],
 "ftxt": [{"x":237.7,"y":0.245,"t":"238.6 nm"}]
},
"concat": [
 {
  "width": 287, "height": 231,
  "title": {"text": "a)", "offset": 8},
  "resolve": {"axis": {"x": "independent", "y": "independent"}},
  "layer": [
   {"data": {"name": "a"}, "mark": {"type": "line", "clip": true, "strokeWidth": 1},
    "encoding": {
     "x": {"field": "w", "type": "quantitative", "scale": {"domain": [216.4, 279.7], "nice": false, "zero": false},
      "axis": {"orient": "bottom", "title": "Wavelength (nm)", "values": [220,240,260]}},
     "y": {"field": "v", "type": "quantitative", "scale": {"domain": [-129.9, 13.9], "nice": false, "zero": false},
      "axis": {"orient": "left", "title": "CD (mdeg)", "titleX": -51, "values": [-100,-50,0], "labelExpr": "replace(datum.label, '\u2212', '-')"}},
     "color": {"field": "s", "type": "nominal", "legend": null, "scale": {"domain": ["20","50","55","60","90","g"], "range": ["#333333","#ff22ff","#22dddd","#2222ff","#ff2a2a","#33cc33"]}}
    }},
   {"data": {"name": "a"}, "mark": {"type": "point", "opacity": 0, "size": 0, "clip": true},
    "encoding": {
     "x": {"field": "w", "type": "quantitative", "axis": {"orient": "bottom", "values": [230,250,270], "labels": false, "domain": false, "title": null, "tickSize": 3}},
     "y": {"field": "v", "type": "quantitative", "axis": {"orient": "left", "values": [-125,-75,-25], "labels": false, "domain": false, "title": null, "tickSize": 3}}
    }},
   {"data": {"name": "aarr"}, "mark": {"type": "rule", "strokeWidth": 1},
    "encoding": {"x": {"field": "x", "type": "quantitative", "axis": null}, "y": {"field": "y", "type": "quantitative", "axis": null}, "x2": {"field": "x2"}, "y2": {"field": "y2"}, "color": {"field": "s", "type": "nominal", "legend": null}}},
   {"data": {"name": "aarr"}, "transform": [{"filter": "datum.s == '60'"}], "mark": {"type": "point", "shape": "triangle", "filled": true, "size": 22, "angle": 28, "opacity": 1},
    "encoding": {"x": {"field": "x2", "type": "quantitative", "axis": null}, "y": {"field": "y2", "type": "quantitative", "axis": null}, "color": {"field": "s", "type": "nominal", "legend": null}}},
   {"data": {"name": "aarr"}, "transform": [{"filter": "datum.s == '55'"}], "mark": {"type": "point", "shape": "triangle", "filled": true, "size": 22, "angle": 328, "opacity": 1},
    "encoding": {"x": {"field": "x2", "type": "quantitative", "axis": null}, "y": {"field": "y2", "type": "quantitative", "axis": null}, "color": {"field": "s", "type": "nominal", "legend": null}}},
   {"data": {"name": "aarr"}, "transform": [{"filter": "datum.s == '50'"}], "mark": {"type": "point", "shape": "triangle", "filled": true, "size": 22, "angle": 336, "opacity": 1},
    "encoding": {"x": {"field": "x2", "type": "quantitative", "axis": null}, "y": {"field": "y2", "type": "quantitative", "axis": null}, "color": {"field": "s", "type": "nominal", "legend": null}}},
   {"data": {"name": "aarr"}, "transform": [{"filter": "datum.s == '20'"}], "mark": {"type": "point", "shape": "triangle", "filled": true, "size": 22, "angle": 355, "opacity": 1},
    "encoding": {"x": {"field": "x2", "type": "quantitative", "axis": null}, "y": {"field": "y2", "type": "quantitative", "axis": null}, "color": {"field": "s", "type": "nominal", "legend": null}}},
   {"data": {"name": "aarr"}, "transform": [{"filter": "datum.s == '90'"}], "mark": {"type": "point", "shape": "triangle", "filled": true, "size": 22, "angle": 270, "opacity": 1},
    "encoding": {"x": {"field": "x2", "type": "quantitative", "axis": null}, "y": {"field": "y2", "type": "quantitative", "axis": null}, "color": {"field": "s", "type": "nominal", "legend": null}}},
   {"data": {"name": "atxt"}, "mark": {"type": "text", "fontSize": 18, "baseline": "middle", "align": "center"},
    "encoding": {"x": {"field": "x", "type": "quantitative", "axis": null}, "y": {"field": "y", "type": "quantitative", "axis": null}, "text": {"field": "t"}, "color": {"field": "s", "type": "nominal", "legend": null}}}
  ]
 },
 {
  "width": 282, "height": 231,
  "title": {"text": "b)", "offset": 8},
  "resolve": {"axis": {"x": "independent", "y": "independent"}},
  "layer": [
   {"data": {"name": "b"}, "mark": {"type": "line", "clip": true, "strokeWidth": 1},
    "encoding": {
     "x": {"field": "w", "type": "quantitative", "scale": {"domain": [214.1, 286.5], "nice": false, "zero": false},
      "axis": {"orient": "bottom", "title": "Wavelength (nm)", "values": [220,240,260,280]}},
     "y": {"field": "v", "type": "quantitative", "scale": {"domain": [-18.95, 8.29], "nice": false, "zero": false},
      "axis": {"orient": "left", "title": "CD (mdeg)", "titleX": -47, "values": [-18,-9,0], "labelExpr": "replace(datum.label, '\u2212', '-')"}},
     "color": {"field": "s", "type": "nominal", "legend": null, "scale": {"domain": ["100","90","g","k"], "range": ["#ff3030","#3030ff","#30dd30","#333333"]}}
    }},
   {"data": {"name": "b"}, "mark": {"type": "point", "opacity": 0, "size": 0, "clip": true},
    "encoding": {
     "x": {"field": "w", "type": "quantitative", "axis": {"orient": "bottom", "values": [230,250,270], "labels": false, "domain": false, "title": null, "tickSize": 3}},
     "y": {"field": "v", "type": "quantitative", "axis": {"orient": "left", "values": [-13.5,-4.5,4.5], "labels": false, "domain": false, "title": null, "tickSize": 3}}
    }},
   {"data": {"name": "barr"}, "mark": {"type": "rule", "strokeWidth": 1, "color": "#000"},
    "encoding": {"x": {"field": "x", "type": "quantitative", "axis": null}, "y": {"field": "y", "type": "quantitative", "axis": null}, "x2": {"field": "x2"}, "y2": {"field": "y2"}}},
   {"data": {"name": "barr"}, "transform": [{"filter": "datum.s == 'k1'"}], "mark": {"type": "point", "shape": "triangle", "filled": true, "size": 22, "angle": 174, "color": "#000", "opacity": 1},
    "encoding": {"x": {"field": "x2", "type": "quantitative", "axis": null}, "y": {"field": "y2", "type": "quantitative", "axis": null}}},
   {"data": {"name": "barr"}, "transform": [{"filter": "datum.s != 'k1'"}], "mark": {"type": "point", "shape": "triangle", "filled": true, "size": 22, "angle": 270, "color": "#000", "opacity": 1},
    "encoding": {"x": {"field": "x2", "type": "quantitative", "axis": null}, "y": {"field": "y2", "type": "quantitative", "axis": null}}},
   {"data": {"name": "btxt"}, "mark": {"type": "text", "fontSize": 18, "baseline": "middle", "align": "center", "color": "#000"},
    "encoding": {"x": {"field": "x", "type": "quantitative", "axis": null}, "y": {"field": "y", "type": "quantitative", "axis": null}, "text": {"field": "t"}}}
  ]
 },
 {
  "width": 286, "height": 235,
  "title": {"text": "c)", "offset": 4},
  "resolve": {"axis": {"x": "independent", "y": "independent"}},
  "layer": [
   {"data": {"name": "c"}, "mark": {"type": "line", "clip": true, "strokeWidth": 1, "color": "#555555"},
    "encoding": {
     "x": {"field": "w", "type": "quantitative", "scale": {"domain": [223.2, 267.1], "nice": false, "zero": false},
      "axis": {"orient": "bottom", "title": "Wavelength (nm)", "values": [230,240,250,260]}},
     "y": {"field": "v", "type": "quantitative", "scale": {"domain": [-45.4, 22.0], "nice": false, "zero": false},
      "axis": {"orient": "left", "title": "CD (mdeg)", "titleX": -51, "values": [-40,-20,0,20], "labelExpr": "replace(datum.label, '\u2212', '-')"}},
     "detail": {"field": "s", "type": "nominal"}
    }},
   {"data": {"name": "c"}, "mark": {"type": "point", "opacity": 0, "size": 0, "clip": true},
    "encoding": {
     "x": {"field": "w", "type": "quantitative", "axis": {"orient": "bottom", "values": [225,235,245,255,265], "labels": false, "domain": false, "title": null, "tickSize": 3}},
     "y": {"field": "v", "type": "quantitative", "axis": {"orient": "left", "values": [-30,-10,10], "labels": false, "domain": false, "title": null, "tickSize": 3}}
    }},
   {"data": {"name": "czero"}, "mark": {"type": "rule", "color": "#000", "strokeWidth": 1},
    "encoding": {"y": {"field": "v", "type": "quantitative", "axis": null}}},
   {"data": {"name": "carr"}, "mark": {"type": "rule", "strokeWidth": 1.2, "color": "#000"},
    "encoding": {"x": {"field": "x", "type": "quantitative", "axis": null}, "y": {"field": "y", "type": "quantitative", "axis": null}, "x2": {"field": "x2"}, "y2": {"field": "y2"}}},
   {"data": {"name": "carr"}, "transform": [{"filter": "datum.s == '25'"}], "mark": {"type": "point", "shape": "triangle", "filled": true, "size": 22, "angle": 258, "color": "#000", "opacity": 1},
    "encoding": {"x": {"field": "x2", "type": "quantitative", "axis": null}, "y": {"field": "y2", "type": "quantitative", "axis": null}}},
   {"data": {"name": "ctxt"}, "mark": {"type": "text", "fontSize": 18, "baseline": "middle", "align": "center", "color": "#000"},
    "encoding": {"x": {"field": "x", "type": "quantitative", "axis": null}, "y": {"field": "y", "type": "quantitative", "axis": null}, "text": {"field": "t"}}}
  ]
 },
 {
  "width": 283, "height": 235,
  "title": {"text": "d)", "offset": 3},
  "resolve": {"axis": {"x": "independent", "y": "independent"}},
  "layer": [
   {"data": {"name": "d"}, "mark": {"type": "line", "clip": true, "strokeWidth": 1, "color": "#555555"},
    "encoding": {
     "x": {"field": "w", "type": "quantitative", "scale": {"domain": [201.4, 269.9], "nice": false, "zero": false},
      "axis": {"orient": "bottom", "title": "Wavelength (nm)", "values": [210,220,230,240,250,260]}},
     "y": {"field": "v", "type": "quantitative", "scale": {"domain": [-6.04, 37.4], "nice": false, "zero": false},
      "axis": {"orient": "left", "title": "CD (mdeg)", "titleX": -46, "values": [0,10,20,30]}},
     "detail": {"field": "s", "type": "nominal"}
    }},
   {"data": {"name": "d"}, "mark": {"type": "point", "opacity": 0, "size": 0, "clip": true},
    "encoding": {
     "x": {"field": "w", "type": "quantitative", "axis": {"orient": "bottom", "values": [205,215,225,235,245,255,265], "labels": false, "domain": false, "title": null, "tickSize": 3}},
     "y": {"field": "v", "type": "quantitative", "axis": {"orient": "left", "values": [-5,5,15,25,35], "labels": false, "domain": false, "title": null, "tickSize": 3}}
    }},
   {"data": {"name": "darr"}, "mark": {"type": "rule", "strokeWidth": 1.2, "color": "#000"},
    "encoding": {"x": {"field": "x", "type": "quantitative", "axis": null}, "y": {"field": "y", "type": "quantitative", "axis": null}, "x2": {"field": "x2"}, "y2": {"field": "y2"}}},
   {"data": {"name": "dtxt"}, "mark": {"type": "text", "fontSize": 18, "baseline": "middle", "align": "center", "color": "#000"},
    "encoding": {"x": {"field": "x", "type": "quantitative", "axis": null}, "y": {"field": "y", "type": "quantitative", "axis": null}, "text": {"field": "t"}}}
  ]
 },
 {
  "width": 287, "height": 234,
  "title": {"text": "e)", "offset": 4},
  "resolve": {"axis": {"x": "independent", "y": "independent"}},
  "layer": [
   {"data": {"name": "e"}, "mark": {"type": "line", "clip": true, "strokeWidth": 1},
    "encoding": {
     "x": {"field": "w", "type": "quantitative", "scale": {"domain": [197.6, 266.5], "nice": false, "zero": false},
      "axis": {"orient": "bottom", "title": "Wavelength (nm)", "values": [200,220,240,260]}},
     "y": {"field": "v", "type": "quantitative", "scale": {"domain": [0.13, 2.12], "nice": false, "zero": false},
      "axis": {"orient": "left", "title": "Absorbance", "titleX": -52, "format": ".1f", "values": [0.7,1.4]}},
     "color": {"field": "s", "type": "nominal", "legend": null, "scale": {"domain": ["RS","SR"], "range": ["#444444","#ff3333"]}}
    }},
   {"data": {"name": "e"}, "mark": {"type": "point", "opacity": 0, "size": 0, "clip": true},
    "encoding": {
     "x": {"field": "w", "type": "quantitative", "axis": {"orient": "bottom", "values": [210,230,250], "labels": false, "domain": false, "title": null, "tickSize": 3}},
     "y": {"field": "v", "type": "quantitative", "axis": {"orient": "left", "values": [0.35,1.05,1.75,2.1], "labels": false, "domain": false, "title": null, "tickSize": 3}}
    }},
   {"data": {"name": "eleg"}, "mark": {"type": "rule", "strokeWidth": 1},
    "encoding": {"x": {"field": "x", "type": "quantitative", "axis": null}, "x2": {"field": "x2"}, "y": {"field": "y", "type": "quantitative", "axis": null}, "color": {"field": "s", "type": "nominal", "legend": null}}},
   {"data": {"name": "elt"}, "transform": [{"filter": "datum.k == 'n'"}], "mark": {"type": "text", "fontSize": 17, "baseline": "middle", "align": "left", "color": "#000"},
    "encoding": {"x": {"field": "x", "type": "quantitative", "axis": null}, "y": {"field": "y", "type": "quantitative", "axis": null}, "text": {"field": "t"}}},
   {"data": {"name": "elt"}, "transform": [{"filter": "datum.k == 'i'"}], "mark": {"type": "text", "fontSize": 17, "fontStyle": "italic", "baseline": "middle", "align": "left", "color": "#000"},
    "encoding": {"x": {"field": "x", "type": "quantitative", "axis": null}, "y": {"field": "y", "type": "quantitative", "axis": null}, "text": {"field": "t"}}},
   {"data": {"name": "elt"}, "transform": [{"filter": "datum.k == 'b'"}], "mark": {"type": "text", "fontSize": 17, "fontWeight": "bold", "baseline": "middle", "align": "left", "color": "#000"},
    "encoding": {"x": {"field": "x", "type": "quantitative", "axis": null}, "y": {"field": "y", "type": "quantitative", "axis": null}, "text": {"field": "t"}}},
   {"data": {"name": "elt"}, "transform": [{"filter": "datum.k == 'sup'"}], "mark": {"type": "text", "fontSize": 10, "dy": -6, "baseline": "middle", "align": "left", "color": "#000"},
    "encoding": {"x": {"field": "x", "type": "quantitative", "axis": null}, "y": {"field": "y", "type": "quantitative", "axis": null}, "text": {"field": "t"}}},
   {"data": {"name": "earr"}, "mark": {"type": "rule", "strokeWidth": 1, "color": "#000"},
    "encoding": {"x": {"field": "x", "type": "quantitative", "axis": null}, "y": {"field": "y", "type": "quantitative", "axis": null}, "x2": {"field": "x2"}, "y2": {"field": "y2"}}},
   {"data": {"name": "earr"}, "mark": {"type": "point", "shape": "triangle", "filled": true, "size": 22, "angle": 21, "color": "#000", "opacity": 1},
    "encoding": {"x": {"field": "x2", "type": "quantitative", "axis": null}, "y": {"field": "y2", "type": "quantitative", "axis": null}}},
   {"data": {"name": "etxt"}, "mark": {"type": "text", "fontSize": 18, "baseline": "middle", "align": "center", "color": "#000"},
    "encoding": {"x": {"field": "x", "type": "quantitative", "axis": null}, "y": {"field": "y", "type": "quantitative", "axis": null}, "text": {"field": "t"}}}
  ]
 },
 {
  "width": 287, "height": 234,
  "title": {"text": "f)", "offset": 5},
  "resolve": {"axis": {"x": "independent", "y": "independent"}},
  "layer": [
   {"data": {"name": "f"}, "mark": {"type": "line", "clip": true, "strokeWidth": 1, "color": "#555555"},
    "encoding": {
     "x": {"field": "w", "type": "quantitative", "scale": {"domain": [180, 300], "nice": false, "zero": false},
      "axis": {"orient": "bottom", "title": "Wavelength (nm)", "values": [180,200,220,240,260,280,300]}},
     "y": {"field": "v", "type": "quantitative", "scale": {"domain": [0, 0.859], "nice": false, "zero": false},
      "axis": {"orient": "left", "title": "Absorbance", "titleX": -47, "format": ".1f", "values": [0,0.1,0.2,0.3,0.4,0.5,0.6,0.7,0.8]}}
    }},
   {"data": {"name": "f"}, "mark": {"type": "point", "opacity": 0, "size": 0, "clip": true},
    "encoding": {
     "x": {"field": "w", "type": "quantitative", "axis": {"orient": "bottom", "values": [190,210,230,250,270,290], "labels": false, "domain": false, "title": null, "tickSize": 3}},
     "y": {"field": "v", "type": "quantitative", "axis": {"orient": "left", "values": [0.05,0.15,0.25,0.35,0.45,0.55,0.65,0.75,0.85], "labels": false, "domain": false, "title": null, "tickSize": 3}}
    }},
   {"data": {"name": "fleg"}, "mark": {"type": "rule", "strokeWidth": 1, "color": "#555555"},
    "encoding": {"x": {"field": "x", "type": "quantitative", "axis": null}, "x2": {"field": "x2"}, "y": {"field": "y", "type": "quantitative", "axis": null}}},
   {"data": {"name": "flt"}, "transform": [{"filter": "datum.k == 'n'"}], "mark": {"type": "text", "fontSize": 17, "baseline": "middle", "align": "left", "color": "#000"},
    "encoding": {"x": {"field": "x", "type": "quantitative", "axis": null}, "y": {"field": "y", "type": "quantitative", "axis": null}, "text": {"field": "t"}}},
   {"data": {"name": "flt"}, "transform": [{"filter": "datum.k == 'i'"}], "mark": {"type": "text", "fontSize": 17, "fontStyle": "italic", "baseline": "middle", "align": "left", "color": "#000"},
    "encoding": {"x": {"field": "x", "type": "quantitative", "axis": null}, "y": {"field": "y", "type": "quantitative", "axis": null}, "text": {"field": "t"}}},
   {"data": {"name": "flt"}, "transform": [{"filter": "datum.k == 'b'"}], "mark": {"type": "text", "fontSize": 17, "fontWeight": "bold", "baseline": "middle", "align": "left", "color": "#000"},
    "encoding": {"x": {"field": "x", "type": "quantitative", "axis": null}, "y": {"field": "y", "type": "quantitative", "axis": null}, "text": {"field": "t"}}},
   {"data": {"name": "flt"}, "transform": [{"filter": "datum.k == 'sup'"}], "mark": {"type": "text", "fontSize": 10, "dy": -6, "baseline": "middle", "align": "left", "color": "#000"},
    "encoding": {"x": {"field": "x", "type": "quantitative", "axis": null}, "y": {"field": "y", "type": "quantitative", "axis": null}, "text": {"field": "t"}}},
   {"data": {"name": "farr"}, "mark": {"type": "rule", "strokeWidth": 1, "color": "#000"},
    "encoding": {"x": {"field": "x", "type": "quantitative", "axis": null}, "y": {"field": "y", "type": "quantitative", "axis": null}, "x2": {"field": "x2"}, "y2": {"field": "y2"}}},
   {"data": {"name": "farr"}, "mark": {"type": "point", "shape": "triangle", "filled": true, "size": 22, "angle": 4, "color": "#000", "opacity": 1},
    "encoding": {"x": {"field": "x2", "type": "quantitative", "axis": null}, "y": {"field": "y2", "type": "quantitative", "axis": null}}},
   {"data": {"name": "ftxt"}, "mark": {"type": "text", "fontSize": 18, "baseline": "middle", "align": "center", "color": "#000"},
    "encoding": {"x": {"field": "x", "type": "quantitative", "axis": null}, "y": {"field": "y", "type": "quantitative", "axis": null}, "text": {"field": "t"}}}
  ]
 }
]
}
